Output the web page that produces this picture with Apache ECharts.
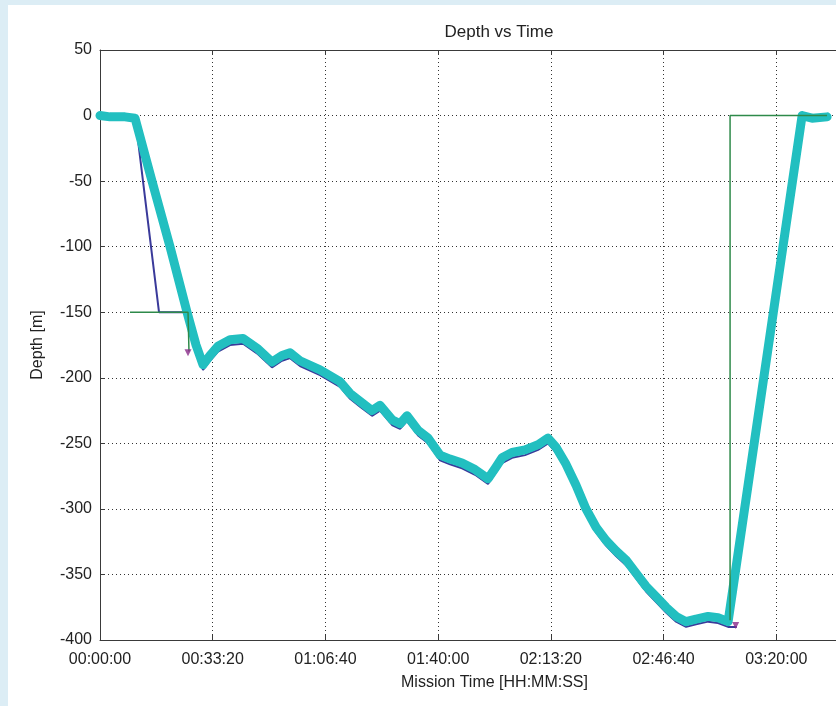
<!DOCTYPE html>
<html>
<head>
<meta charset="utf-8">
<script src="https://cdn.jsdelivr.net/npm/echarts@6/dist/echarts.min.js"></script>
<style>
html,body{margin:0;padding:0;background:#dcedf5;}
#wrap{position:relative;width:836px;height:706px;background:#dcedf5;overflow:hidden;}
#paper{position:absolute;left:8px;top:5px;width:828px;height:701px;background:#ffffff;}
#chart{position:absolute;left:0;top:0;width:836px;height:706px;}
</style>
</head>
<body>
<div id="wrap"><div id="paper"></div><div id="chart"></div></div>
<script>
// Time in seconds, depth in metres
const cyanTime = [0,177,444,621,923,1242,1544,1704,1828,1952,2094,2307,2538,2804,3052,3230,3372,3549,3904,4259,4437,4614,4827,4969,5182,5324,5448,5643,5821,6034,6211,6424,6655,6885,7027,7134,7311,7542,7773,7950,8092,8270,8447,8624,8802,8979,9156,9334,9512,9689,9867,10044,10222,10399,10577,10790,10967,11145,12458,12635,12901];
const cyanDepth = [0,-1,-1,-2,-50,-100,-150,-175,-190,-183,-176,-171,-170,-178,-188,-183,-181,-187,-194,-203,-212,-218,-225,-221,-232,-235,-229,-240,-246,-259,-262,-265,-270,-277,-268,-261,-257,-255,-251,-246,-253,-266,-282,-300,-314,-324,-332,-339,-349,-359,-367,-375,-382,-386,-384,-382,-383,-386,0,-2,-1];

const navyTime = [0,621,1047,1562,1704,1828,1952,2094,2307,2538,2804,3052,3230,3372,3549,3904,4259,4437,4614,4827,4969,5182,5324,5448,5643,5821,6034,6211,6424,6655,6885,7027,7134,7311,7542,7773,7950,8092,8270,8447,8624,8802,8979,9156,9334,9512,9689,9867,10044,10222,10399,10577,10790,10967,11145,11300];
const navyDepth = [0,0,-150,-150,-179,-194,-187,-180,-175,-174,-182,-192,-187,-185,-191,-198,-207,-216,-222,-229,-225,-236,-239,-233,-244,-250,-263,-266,-269,-274,-281,-272,-265,-261,-259,-255,-250,-257,-270,-286,-304,-318,-328,-336,-343,-353,-363,-371,-379,-386,-390,-388,-386,-387,-390,-390];

const greenTime = [532,1562,1579,1579,null,11180,11180,12422,12901];
const greenDepth = [-150,-150,-150,-180,null,-385,0,0,0];

const purpleTime = [1562,11280];
const purpleDepth = [-181,-389];

const xTicks = [0,2000,4000,6000,8000,10000,12000,14000];
const yTicks = [50,0,-50,-100,-150,-200,-250,-300,-350,-400];

function zip(a,b){return a.map((v,i)=> v===null ? [null,null] : [v,b[i]]);}
function hms(s){const h=Math.floor(s/3600),m=Math.floor((s%3600)/60),sec=Math.round(s%60);const p=n=>String(n).padStart(2,'0');return p(h)+':'+p(m)+':'+p(sec);}

const font = 'Liberation Sans, Arial, sans-serif';
const chart = echarts.init(document.getElementById('chart'), null, {renderer:'canvas'});
chart.setOption({
  backgroundColor:'transparent',
  animation:false,
  title:{text:'Depth vs Time',left:494,top:19,textAlign:'center',
    textStyle:{fontFamily:font,fontSize:17,fontWeight:'normal',color:'#222'}},
  grid:{left:100,top:50,width:789,height:590,show:false,containLabel:false,outerBoundsMode:'none'},
  xAxis:[{
    type:'value',min:xTicks[0],max:xTicks[xTicks.length-1],interval:2000,
    name:'Mission Time [HH:MM:SS]',nameLocation:'middle',nameGap:35,
    nameTextStyle:{fontFamily:font,fontSize:16,color:'#222'},
    axisLine:{show:true,onZero:false,lineStyle:{color:'#3a3a3a',width:1}},
    axisTick:{show:true,inside:true,length:5,lineStyle:{color:'#3a3a3a'}},
    axisLabel:{margin:12,fontFamily:font,fontSize:16,color:'#222',formatter:v=>hms(v),showMaxLabel:true,showMinLabel:true},
    splitLine:{show:true,lineStyle:{type:[1,3],color:'#333',width:1}}
  },{
    type:'value',position:'top',min:xTicks[0],max:xTicks[xTicks.length-1],interval:2000,
    axisLine:{show:true,onZero:false,lineStyle:{color:'#3a3a3a',width:1}},
    axisTick:{show:true,inside:true,length:5,lineStyle:{color:'#3a3a3a'}},
    axisLabel:{show:false},splitLine:{show:false}
  }],
  yAxis:{
    type:'value',min:yTicks[yTicks.length-1],max:yTicks[0],interval:50,
    name:'Depth [m]',nameLocation:'middle',nameGap:54,nameRotate:90,
    nameTextStyle:{fontFamily:font,fontSize:16,color:'#222'},
    axisLine:{show:true,onZero:false,lineStyle:{color:'#3a3a3a',width:1}},
    axisTick:{show:true,inside:true,length:5,lineStyle:{color:'#3a3a3a'}},
    axisLabel:{margin:8,fontFamily:font,fontSize:16,color:'#222'},
    splitLine:{show:true,lineStyle:{type:[1,3],color:'#333',width:1}}
  },
  series:[
    {type:'line',name:'navy',data:zip(navyTime,navyDepth),showSymbol:false,
      lineStyle:{color:'#3a3a9a',width:2},z:3},
    {type:'line',name:'cyan',data:zip(cyanTime,cyanDepth),showSymbol:false,
      lineStyle:{color:'#22bfc0',width:9,cap:'round',join:'round'},z:4},
    {type:'line',name:'green',data:zip(greenTime,greenDepth),showSymbol:false,connectNulls:false,
      lineStyle:{color:'#2e8a4a',width:1.5},z:5},
    {type:'scatter',name:'purple',data:zip(purpleTime,purpleDepth),symbol:'triangle',symbolSize:7,symbolRotate:180,
      itemStyle:{color:'#8a2a8a'},z:6}
  ]
});
</script>
</body>
</html>
